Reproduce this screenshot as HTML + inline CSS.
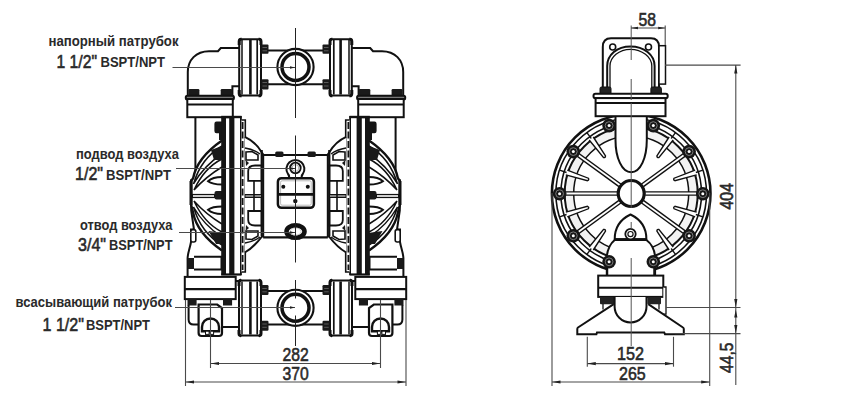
<!DOCTYPE html>
<html><head><meta charset="utf-8">
<style>
html,body{margin:0;padding:0;background:#fff;}
svg{display:block;}
text{font-family:"Liberation Sans",sans-serif;fill:#2a2a2a;}
.lb{font-weight:bold;font-size:14px;}
.big{font-size:18.8px;stroke:#2a2a2a;stroke-width:0.6px;}
.bs{font-weight:bold;font-size:15px;}
.dim{stroke:#4a4a4a;stroke-width:1.1;fill:none;}
.ar{fill:#222;stroke:none;}
.k{stroke:#111;fill:none;stroke-width:2;stroke-linejoin:round;stroke-linecap:round;}
.kf{fill:#fff;stroke:#111;stroke-width:2;stroke-linejoin:round;}
.t{stroke:#111;fill:none;stroke-width:1.2;}
.cl{stroke:#555;stroke-width:1;fill:none;}
</style></head><body>
<svg width="844" height="412" viewBox="0 0 844 412">

<g id="side">
<circle cx="631.2" cy="193.5" r="66" fill="#f2f2f2" stroke="none"/>
<circle cx="631.2" cy="193.5" r="57.5" fill="#fff" stroke="#111" stroke-width="1.5"/>
<circle cx="631.2" cy="193.5" r="79.3" fill="none" stroke="#111" stroke-width="2.6"/>
<circle cx="631.2" cy="193.5" r="75.3" fill="none" stroke="#111" stroke-width="1.6"/>
<circle cx="631.2" cy="193.5" r="70.3" fill="none" stroke="#111" stroke-width="1.6"/>
<circle cx="631.2" cy="193.5" r="66.5" fill="none" stroke="#111" stroke-width="2"/>
<line x1="694.4" y1="173.0" x2="702.8" y2="170.2" stroke="#111" stroke-width="1.4"/>
<line x1="670.3" y1="139.7" x2="675.5" y2="132.6" stroke="#111" stroke-width="1.4"/>
<line x1="592.1" y1="139.7" x2="586.9" y2="132.6" stroke="#111" stroke-width="1.4"/>
<line x1="568.0" y1="173.0" x2="559.6" y2="170.2" stroke="#111" stroke-width="1.4"/>
<line x1="568.0" y1="214.0" x2="559.6" y2="216.8" stroke="#111" stroke-width="1.4"/>
<line x1="592.1" y1="247.3" x2="586.9" y2="254.4" stroke="#111" stroke-width="1.4"/>
<line x1="670.3" y1="247.3" x2="675.5" y2="254.4" stroke="#111" stroke-width="1.4"/>
<line x1="694.4" y1="214.0" x2="702.8" y2="216.8" stroke="#111" stroke-width="1.4"/>
<line x1="645.2" y1="193.5" x2="698.2" y2="193.5" stroke="#111" stroke-width="4.6"/>
<line x1="642.5" y1="185.3" x2="685.4" y2="154.1" stroke="#111" stroke-width="4.6"/>
<line x1="619.9" y1="185.3" x2="577.0" y2="154.1" stroke="#111" stroke-width="4.6"/>
<line x1="617.2" y1="193.5" x2="564.2" y2="193.5" stroke="#111" stroke-width="4.6"/>
<line x1="619.9" y1="201.7" x2="577.0" y2="232.9" stroke="#111" stroke-width="4.6"/>
<line x1="642.5" y1="201.7" x2="685.4" y2="232.9" stroke="#111" stroke-width="4.6"/>
<line x1="645.2" y1="193.5" x2="696.2" y2="193.5" stroke="#fff" stroke-width="1.8"/>
<line x1="642.5" y1="185.3" x2="683.8" y2="155.3" stroke="#fff" stroke-width="1.8"/>
<line x1="619.9" y1="185.3" x2="578.6" y2="155.3" stroke="#fff" stroke-width="1.8"/>
<line x1="617.2" y1="193.5" x2="566.2" y2="193.5" stroke="#fff" stroke-width="1.8"/>
<line x1="619.9" y1="201.7" x2="578.6" y2="231.7" stroke="#fff" stroke-width="1.8"/>
<line x1="642.5" y1="201.7" x2="683.8" y2="231.7" stroke="#fff" stroke-width="1.8"/>
<path d="M696.6 174.9 L674.9 180.7 Q673.0 179.9 674.1 178.2 L695.1 170.1" fill="#fff" stroke="#111" stroke-width="1.4"/>
<path d="M673.2 140.0 L659.0 157.5 Q657.0 158.0 656.9 155.9 L669.1 137.0" fill="#fff" stroke="#111" stroke-width="1.4"/>
<path d="M593.3 137.0 L605.5 155.9 Q605.4 158.0 603.4 157.5 L589.2 140.0" fill="#fff" stroke="#111" stroke-width="1.4"/>
<path d="M567.3 170.1 L588.3 178.2 Q589.4 179.9 587.5 180.7 L565.8 174.9" fill="#fff" stroke="#111" stroke-width="1.4"/>
<path d="M565.8 212.1 L587.5 206.3 Q589.4 207.1 588.3 208.8 L567.3 216.9" fill="#fff" stroke="#111" stroke-width="1.4"/>
<path d="M589.2 247.0 L603.4 229.5 Q605.4 229.0 605.5 231.1 L593.3 250.0" fill="#fff" stroke="#111" stroke-width="1.4"/>
<path d="M669.1 250.0 L656.9 231.1 Q657.0 229.0 659.0 229.5 L673.2 247.0" fill="#fff" stroke="#111" stroke-width="1.4"/>
<path d="M695.1 216.9 L674.1 208.8 Q673.0 207.1 674.9 206.3 L696.6 212.1" fill="#fff" stroke="#111" stroke-width="1.4"/>
<circle cx="631.2" cy="193.5" r="13" fill="#fff" stroke="#111" stroke-width="3.2"/>
<!-- top pipe bullet -->
<path d="M615.5 112 V140 C615.5 158 622 172.3 631.2 172.3 C640.4 172.3 646.8 158 646.8 140 V112" fill="#fff" stroke="#111" stroke-width="2"/>
<!-- bottom shoulder -->
<path d="M606.8 276 V256 C608 247 611 243 614.7 240 H646.4 C650.5 243 654 247 655.1 256 V276 Z" fill="#fff" stroke="#111" stroke-width="2"/>
<!-- bottom pointed arch -->
<path d="M614.7 239.2 C614.7 229 619 220 630.5 214.5 C642 220 646.4 229 646.4 239.2 Z" fill="#fff" stroke="#111" stroke-width="2"/>
<line x1="614.7" y1="239.5" x2="646.4" y2="239.5" stroke="#111" stroke-width="2.6"/>
<circle cx="630.5" cy="234.1" r="5.2" fill="#fff" stroke="#111" stroke-width="1.8"/>
<circle cx="630.5" cy="234.1" r="2.6" fill="#fff" stroke="#111" stroke-width="1.2"/>
<!-- stems to base -->
<line x1="607.5" y1="262" x2="607.5" y2="276" stroke="#111" stroke-width="1.5"/>
<line x1="654" y1="262" x2="654" y2="276" stroke="#111" stroke-width="1.5"/>
<!-- top bracket -->
<path d="M602.8 88 V47 Q602.8 38.3 611 38.3 H651 Q659 38.3 659 47 V88" fill="#fff" stroke="#111" stroke-width="2"/>
<rect x="659" y="45.7" width="6.5" height="38.4" fill="#fff" stroke="#111" stroke-width="1.5"/>
<circle cx="612.7" cy="47" r="3" fill="#fff" stroke="#111" stroke-width="1.6"/>
<circle cx="648.5" cy="47" r="3" fill="#fff" stroke="#111" stroke-width="1.6"/>
<path d="M607.2 88 V66 C607.2 55 617 46.4 630.5 46.4 C644 46.4 654.6 55 654.6 66 V88" fill="none" stroke="#111" stroke-width="2"/>
<path d="M610 88 V66 C610 57 619 49.3 630.5 49.3 C642 49.3 651.8 57 651.8 66 V88" fill="none" stroke="#111" stroke-width="1.3"/>
<!-- nuts -->
<rect x="600" y="87" width="11" height="7.5" rx="1.5" fill="#222" stroke="#111" stroke-width="1"/>
<rect x="650.9" y="87" width="10.5" height="7.5" rx="1.5" fill="#222" stroke="#111" stroke-width="1"/>
<!-- top manifold -->
<rect x="593.5" y="93.8" width="74.2" height="4.5" rx="2" fill="#fff" stroke="#111" stroke-width="2"/>
<rect x="595.6" y="98.1" width="69.9" height="18.1" fill="#fff" stroke="#111" stroke-width="2"/>
<line x1="595.6" y1="103.1" x2="665.5" y2="103.1" stroke="#111" stroke-width="2"/>
<!-- base block -->
<rect x="598.2" y="275.6" width="65.1" height="21.3" fill="#fff" stroke="#111" stroke-width="2"/>
<line x1="598.2" y1="287.8" x2="663.3" y2="287.8" stroke="#111" stroke-width="2"/>
<path d="M663.3 287 H666 V314.2 H663.3" fill="#fff" stroke="#111" stroke-width="1.3"/>
<!-- foot -->
<path d="M613.7 304.2 L578 327.5 Q577.3 328 577.3 329 V334.2 H596.4 L597 332.4 H664.2 L665 334.2 H683.8 V329 Q683.8 328 683 327.5 L648.3 304.2" fill="#fff" stroke="#111" stroke-width="2"/>
<rect x="600" y="297" width="14.6" height="7.2" rx="1" fill="#222"/>
<rect x="647.4" y="297" width="13.6" height="7.2" rx="1" fill="#222"/>
<line x1="603" y1="304" x2="603" y2="309.6" stroke="#111" stroke-width="1.3"/>
<line x1="659" y1="304" x2="659" y2="309.6" stroke="#111" stroke-width="1.3"/>
<path d="M614.6 297 V306.4 A15.95 16 0 0 0 646.5 306.4 V297" fill="#fff" stroke="#111" stroke-width="2"/>
<!-- center line side -->
<path d="M631.2 25.5 V60 M631.2 79 V100 M631.2 103 V208 M631.2 222 V229 M631.2 258 V346" stroke="#555" stroke-width="1" fill="none"/>

<g transform="translate(702.8 193.7)"><circle r="6.8" fill="#161616"/><circle r="3.9" fill="none" stroke="#7a7a7a" stroke-width="1"/><circle r="1.5" fill="#fff"/></g>
<g transform="translate(689.1 151.6)"><circle r="6.8" fill="#161616"/><circle r="3.9" fill="none" stroke="#7a7a7a" stroke-width="1"/><circle r="1.5" fill="#fff"/></g>
<g transform="translate(653.3 125.6)"><circle r="6.8" fill="#161616"/><circle r="3.9" fill="none" stroke="#7a7a7a" stroke-width="1"/><circle r="1.5" fill="#fff"/></g>
<g transform="translate(609.1 125.6)"><circle r="6.8" fill="#161616"/><circle r="3.9" fill="none" stroke="#7a7a7a" stroke-width="1"/><circle r="1.5" fill="#fff"/></g>
<g transform="translate(573.3 151.6)"><circle r="6.8" fill="#161616"/><circle r="3.9" fill="none" stroke="#7a7a7a" stroke-width="1"/><circle r="1.5" fill="#fff"/></g>
<g transform="translate(559.6 193.7)"><circle r="6.8" fill="#161616"/><circle r="3.9" fill="none" stroke="#7a7a7a" stroke-width="1"/><circle r="1.5" fill="#fff"/></g>
<g transform="translate(573.3 235.8)"><circle r="6.8" fill="#161616"/><circle r="3.9" fill="none" stroke="#7a7a7a" stroke-width="1"/><circle r="1.5" fill="#fff"/></g>
<g transform="translate(609.1 261.8)"><circle r="6.8" fill="#161616"/><circle r="3.9" fill="none" stroke="#7a7a7a" stroke-width="1"/><circle r="1.5" fill="#fff"/></g>
<g transform="translate(653.3 261.8)"><circle r="6.8" fill="#161616"/><circle r="3.9" fill="none" stroke="#7a7a7a" stroke-width="1"/><circle r="1.5" fill="#fff"/></g>
<g transform="translate(689.1 235.8)"><circle r="6.8" fill="#161616"/><circle r="3.9" fill="none" stroke="#7a7a7a" stroke-width="1"/><circle r="1.5" fill="#fff"/></g>
</g>
<g id="front">
<defs>
<g id="fl">
<!-- top elbow -->
<path d="M187.8 97 V72 C187.8 60 196 51.2 209 51.2 H218 L220.8 48 H240 V86.2 H232.4 V97 Z" fill="#fff" stroke="#111" stroke-width="2"/>
<!-- top manifold block -->
<rect x="188.5" y="89.1" width="10.9" height="7" rx="1.2" fill="#1a1a1a"/>
<rect x="220.7" y="89.1" width="11.5" height="7" rx="1.2" fill="#1a1a1a"/>
<rect x="185.8" y="95.8" width="48.1" height="3.6" rx="1.5" fill="#777" stroke="#111" stroke-width="2"/>
<rect x="187.3" y="99" width="45.5" height="18.2" fill="#fff" stroke="#111" stroke-width="2"/>
<line x1="187.3" y1="104.6" x2="232.8" y2="104.6" stroke="#111" stroke-width="2"/>
<!-- top clamp -->
<path d="M239.2 41.5 Q239.2 39.3 241.4 39.3 H258.8 Q261 39.3 261 41.5 V93.2 Q261 95.4 258.8 95.4 H241.4 Q239.2 95.4 239.2 93.2 Z" fill="#fff" stroke="#111" stroke-width="2"/>
<line x1="242" y1="40" x2="242" y2="94.5" stroke="#111" stroke-width="1.5"/>
<line x1="250.4" y1="40" x2="250.4" y2="94.5" stroke="#111" stroke-width="2.6"/>
<line x1="257.2" y1="40" x2="257.2" y2="94.5" stroke="#111" stroke-width="1.7"/>
<path d="M239.2 45 V41.5 Q239.2 39 241.5 39.3 M261 45 V41.5 Q261 39 258.7 39.3 M239.2 90 V93.5 Q239.2 96 241.5 95.7 M261 90 V93.5 Q261 96 258.7 95.7" stroke="#111" stroke-width="3" fill="none"/>
<!-- tee pipe top -->
<line x1="262" y1="50.4" x2="296" y2="50.4" stroke="#111" stroke-width="2"/>
<line x1="262" y1="84.3" x2="296" y2="84.3" stroke="#111" stroke-width="2"/>
<rect x="261.5" y="44.4" width="7" height="9.4" rx="1" fill="#1a1a1a"/>
<rect x="261.5" y="79.2" width="7" height="10.2" rx="1" fill="#1a1a1a"/>

<!-- chamber housing outline -->
<path d="M195.4 117.2 V179.4 L191.2 180 V210.5 L194 229.6 H191 V242 C190 248 188 252 187.6 258 V277" fill="none" stroke="#111" stroke-width="2"/>
<rect x="190.8" y="229.6" width="5" height="12.4" rx="2" fill="#fff" stroke="#111" stroke-width="1.6"/>
<rect x="187.4" y="258" width="6.6" height="11" fill="#1a1a1a"/>
<path d="M194 256.8 H221.5 V269.6 H194" fill="#fff" stroke="#111" stroke-width="2"/>

<!-- dome -->
<path d="M222 140.5 C208.7 149.7 196.3 161.9 193.2 178 L191.2 181 V205 L193.2 213 C196.3 229.1 208.7 241.3 222 250.5" fill="#fff" stroke="#111" stroke-width="2.4"/>
<path d="M191 181 V205" stroke="#111" stroke-width="3"/>
<path d="M222 146 C210 153 199 165 193.5 184 C201 171 211 161 222 154" fill="#fff" stroke="#111" stroke-width="1.5"/>
<path d="M222 159 C210 165 200 177 194 190 C203 180 212 173 222 167" fill="#fff" stroke="#111" stroke-width="1.5"/>
<path d="M222 245 C210 238 199 226 193.5 207 C201 220 211 230 222 237" fill="#fff" stroke="#111" stroke-width="1.5"/>
<path d="M222 232 C210 226 200 214 194 201 C203 211 212 218 222 224" fill="#fff" stroke="#111" stroke-width="1.5"/>
<path d="M222 177 C216 177 211 178.5 208 181.2 C211 183.5 216 184.5 222 184.5" fill="#fff" stroke="#111" stroke-width="1.9"/>
<path d="M222 214 C216 214 211 212.5 208 209.8 C211 207.5 216 206.5 222 206.5" fill="#fff" stroke="#111" stroke-width="1.9"/>
<line x1="192" y1="196" x2="215" y2="196" stroke="#111" stroke-width="4.2"/>
<line x1="193" y1="196" x2="214" y2="196" stroke="#fff" stroke-width="1.6"/>
<!-- bolt blobs -->
<path d="M222 121.6 H216.5 Q214.4 121.6 214.4 123.7 V131 Q214.4 133.2 216.5 133.2 H219 V140 H222 Z" fill="#151515"/>
<path d="M211 150 L222 146 V160 L214 160 Z" fill="#1a1a1a"/>
<rect x="214.5" y="191" width="9.3" height="8.5" rx="2" fill="#1a1a1a"/>
<path d="M208.5 231 L223 233 V244 L216 244 Z" fill="#1a1a1a"/>


<!-- clamp ring -->
<rect x="221.2" y="116.8" width="4.8" height="158" fill="#151515"/>
<rect x="229.2" y="116.8" width="5.2" height="158" fill="#151515"/>
<line x1="240.9" y1="116" x2="240.9" y2="275" stroke="#111" stroke-width="1.8"/>
<line x1="221.2" y1="117" x2="241.5" y2="117" stroke="#111" stroke-width="2.4"/>
<line x1="221.2" y1="274.5" x2="241.5" y2="274.5" stroke="#111" stroke-width="2.2"/>
<path d="M241.5 120 H245.3 V272 H241.5" fill="#fff" stroke="#111" stroke-width="1.6"/>
<line x1="242.6" y1="122" x2="242.6" y2="270" stroke="#111" stroke-width="1.8" stroke-dasharray="7 2.5"/>
<!-- center chamber fins -->
<path d="M244.8 136.8 C252 140 258 146 261.5 152 L263.2 154.5 V236.5 H262 C257 243 251 249 244.8 252.5" fill="#fff" stroke="#111" stroke-width="2"/>
<path d="M245 148 C251 149 256 151 260 154" stroke="#111" stroke-width="1.4" fill="none"/>
<path d="M246 152 L252 151.5 L258 155 V160 H246 Z" fill="#fff" stroke="#111" stroke-width="1.6"/>
<path d="M248.2 180.8 V171 C248.2 167.5 251 165.5 255 165.5 H261.7 V180.8 Z" fill="#fff" stroke="#111" stroke-width="1.8"/>
<path d="M248.2 211 V220 C248.2 223.5 251 225.5 255 225.5 H261.7 V211 Z" fill="#fff" stroke="#111" stroke-width="1.8"/>
<path d="M246 239 L252 239.5 L258 236 V231 H246 Z" fill="#fff" stroke="#111" stroke-width="1.6"/>
<path d="M245 243 C251 242 256 240 260 237" stroke="#111" stroke-width="1.4" fill="none"/>
<path d="M245.6 160 L249 163 L246 166 Z M245.6 231 L249 228 L246 225 Z" fill="#1a1a1a"/>

<path d="M261.7 150 V236" stroke="#111" stroke-width="2.2"/>
<path d="M244.8 196 H262" stroke="#111" stroke-width="4"/>
<path d="M245.5 196 H261" stroke="#bbb" stroke-width="1.4"/>
<path d="M254 181 V211" stroke="#111" stroke-width="1.6"/>
<!-- center body top -->
<line x1="262" y1="155" x2="296" y2="155" stroke="#111" stroke-width="2"/>
<rect x="275.2" y="151.5" width="8.3" height="5.4" rx="1.5" fill="#1a1a1a"/>
<line x1="263.2" y1="237.3" x2="296" y2="237.3" stroke="#111" stroke-width="2.2"/>

<!-- bottom manifold block -->
<rect x="184.8" y="276.9" width="50.9" height="22.2" fill="#fff" stroke="#111" stroke-width="2"/>
<line x1="184.8" y1="289.1" x2="235.7" y2="289.1" stroke="#111" stroke-width="2.2"/>
<rect x="187.5" y="299" width="9.1" height="6.5" fill="#1a1a1a"/>
<rect x="223" y="299" width="9.1" height="6.5" fill="#1a1a1a"/>
<!-- foot -->
<path d="M188.6 305 V319.5 Q188.6 324.5 193.6 324.5 H199" fill="none" stroke="#111" stroke-width="2"/>
<path d="M198.6 304.5 H217.2 L222 308.1 V333 Q222 336 219 336 H201.6 Q198.6 336 198.6 333 Z" fill="#fff" stroke="#111" stroke-width="2.2"/>
<path d="M202 331.2 V327 C202 322 205.8 318.5 210.5 318.5 C215.2 318.5 219 322 219 327 V331.2 Z" fill="#fff" stroke="#111" stroke-width="2.4"/>
<rect x="205.5" y="331.2" width="3.6" height="3.2" fill="#fff" stroke="#111" stroke-width="1"/>
<rect x="210" y="331.2" width="3.6" height="3.2" fill="#fff" stroke="#111" stroke-width="1"/>
<path d="M222 327 H239 M235.7 281 H239" stroke="#111" stroke-width="2" fill="none"/>
<!-- bottom clamp -->
<path d="M239 282.6 Q239 280.5 241.2 280.5 H258.8 Q261 280.5 261 282.6 V333.5 Q261 335.5 258.8 335.5 H241.2 Q239 335.5 239 333.5 Z" fill="#fff" stroke="#111" stroke-width="2"/>
<line x1="242" y1="281.5" x2="242" y2="334.5" stroke="#111" stroke-width="1.5"/>
<line x1="250.4" y1="281.5" x2="250.4" y2="334.5" stroke="#111" stroke-width="2.6"/>
<line x1="257.2" y1="281.5" x2="257.2" y2="334.5" stroke="#111" stroke-width="1.7"/>
<path d="M239 286 V282.5 Q239 280 241.2 280.4 M261 286 V282.5 Q261 280 258.8 280.4 M239 330 V333.5 Q239 336 241.2 335.6 M261 330 V333.5 Q261 336 258.8 335.6" stroke="#111" stroke-width="3" fill="none"/>
<line x1="262" y1="291" x2="296" y2="291" stroke="#111" stroke-width="2"/>
<line x1="262" y1="324.5" x2="296" y2="324.5" stroke="#111" stroke-width="2"/>
<rect x="261.3" y="285" width="7.2" height="10" rx="1.2" fill="#1a1a1a"/>
<rect x="261.3" y="320.8" width="7.2" height="10" rx="1.2" fill="#1a1a1a"/>
<path d="M262.5 47.5 H267 M262.5 50.8 H267 M262.5 82.5 H267 M262.5 86 H267 M262.3 288.5 H266.8 M262.3 291.8 H266.8 M262.3 324 H266.8 M262.3 327.3 H266.8" stroke="#6a6a6a" stroke-width="0.8"/>

</g>
</defs>
<use href="#fl"/>
<use href="#fl" transform="matrix(-1 0 0 1 591 0)"/>

<!-- central items -->
<rect x="275" y="150" width="42" height="8" fill="none"/>
<circle cx="295.5" cy="67" r="18.1" fill="#fff" stroke="#111" stroke-width="2.1"/>
<circle cx="295.5" cy="67" r="13.5" fill="#fff" stroke="#111" stroke-width="3.5"/>
<circle cx="295.5" cy="307.8" r="18.1" fill="#fff" stroke="#111" stroke-width="2.1"/>
<circle cx="295.5" cy="307.8" r="13.5" fill="#fff" stroke="#111" stroke-width="3.5"/>
<!-- eye & valve plate -->
<path d="M288.5 179 C289.5 177 289.5 175.5 288 174 A9 9 0 1 1 302.8 174 C301.3 175.5 301.3 177 302.3 179 Z" fill="#fff" stroke="#111" stroke-width="2"/>
<circle cx="295.4" cy="168" r="5.3" fill="#fff" stroke="#111" stroke-width="1.8"/>
<circle cx="295.4" cy="168" r="3.4" fill="#fff" stroke="#999" stroke-width="0.8"/>
<rect x="277.9" y="178.2" width="36" height="29.6" rx="3.5" fill="#fff" stroke="#111" stroke-width="2.5"/>
<rect x="280.6" y="180.8" width="30.6" height="24.4" rx="1.5" fill="none" stroke="#aaa" stroke-width="0.8"/>
<line x1="277.9" y1="194.4" x2="313.9" y2="194.4" stroke="#111" stroke-width="2.8"/>
<circle cx="283.3" cy="186.8" r="2" fill="#111"/>
<circle cx="307.8" cy="186.8" r="2" fill="#111"/>
<circle cx="295.3" cy="201.1" r="2.2" fill="#111"/>
<!-- muffler port -->
<ellipse cx="295.5" cy="231.6" rx="9" ry="6.2" fill="#fff" stroke="#111" stroke-width="4.6"/>
<ellipse cx="295.5" cy="231.6" rx="5.6" ry="3.6" fill="none" stroke="#bbb" stroke-width="0.8"/>
<!-- center line -->
<path d="M295.5 28 V118 M295.5 135.5 V262.5 M295.5 280 V298.5 M295.5 315.5 V346" stroke="#222" stroke-width="1" fill="none"/>
</g>

<!-- LABELS -->
<g id="labels">
<text class="lb" x="48.5" y="45.6" textLength="130" lengthAdjust="spacingAndGlyphs">напорный патрубок</text>
<text class="big" x="56.5" y="67.5" textLength="40.5" lengthAdjust="spacingAndGlyphs">1 1/2"</text>
<text class="bs" x="100.5" y="67" textLength="64.5" lengthAdjust="spacingAndGlyphs">BSPT/NPT</text>
<line class="dim" x1="172.5" y1="67.5" x2="295" y2="67.5"/>

<text class="lb" x="76" y="158.5" textLength="103" lengthAdjust="spacingAndGlyphs">подвод воздуха</text>
<text class="big" x="75" y="180.3" textLength="28" lengthAdjust="spacingAndGlyphs">1/2"</text>
<text class="bs" x="106" y="179.5" textLength="65" lengthAdjust="spacingAndGlyphs">BSPT/NPT</text>
<line class="dim" x1="176" y1="168.5" x2="295" y2="168.5"/>

<text class="lb" x="80" y="229.9" textLength="92.5" lengthAdjust="spacingAndGlyphs">отвод воздуха</text>
<text class="big" x="78" y="250.8" textLength="28" lengthAdjust="spacingAndGlyphs">3/4"</text>
<text class="bs" x="109" y="249.5" textLength="63.5" lengthAdjust="spacingAndGlyphs">BSPT/NPT</text>
<line class="dim" x1="179" y1="232.5" x2="295" y2="232.5"/>

<text class="lb" x="15.5" y="307" textLength="156.5" lengthAdjust="spacingAndGlyphs">всасывающий патрубок</text>
<text class="big" x="42.5" y="331" textLength="41.5" lengthAdjust="spacingAndGlyphs">1 1/2"</text>
<text class="bs" x="86" y="329.9" textLength="64" lengthAdjust="spacingAndGlyphs">BSPT/NPT</text>
<line class="dim" x1="175" y1="307.5" x2="295" y2="307.5"/>
<path class="ar" d="M295 67.5 l-5 -1.2 v2.4 z M295 168.5 l-5 -1.2 v2.4 z M295 232.5 l-5 -1.2 v2.4 z M295 307.5 l-5 -1.2 v2.4 z"/>
</g>

<!-- DIMENSIONS FRONT -->
<g id="dimf">
<line class="dim" x1="185.5" y1="300" x2="185.5" y2="386"/>
<line class="dim" x1="406" y1="300" x2="406" y2="386"/>
<line class="dim" x1="210.5" y1="300" x2="210.5" y2="368"/>
<line class="dim" x1="380.5" y1="300" x2="380.5" y2="368"/>
<line class="dim" x1="210.5" y1="363.5" x2="380.5" y2="363.5"/>
<line class="dim" x1="185.5" y1="382" x2="406" y2="382"/>
<path class="ar" d="M210.5 363.5 l8.5 -1.6 v3.2 z M380.5 363.5 l-8.5 -1.6 v3.2 z M185.5 382 l8.5 -1.6 v3.2 z M406 382 l-8.5 -1.6 v3.2 z"/>
<text class="big" x="282.6" y="360.8" textLength="26.2" lengthAdjust="spacingAndGlyphs">282</text>
<text class="big" x="282.6" y="379.8" textLength="26.2" lengthAdjust="spacingAndGlyphs">370</text>
</g>

<!-- DIMENSIONS SIDE -->
<g id="dims">
<line class="dim" x1="552" y1="193" x2="552" y2="386"/>
<line class="dim" x1="709.7" y1="193" x2="709.7" y2="386"/>
<line class="dim" x1="552" y1="382" x2="709.7" y2="382"/>
<path class="ar" d="M552 382 l8.5 -1.6 v3.2 z M709.7 382 l-8.5 -1.6 v3.2 z"/>
<line class="dim" x1="587.3" y1="336.8" x2="587.3" y2="366.7"/>
<line class="dim" x1="673.5" y1="336.8" x2="673.5" y2="366.7"/>
<line class="dim" x1="587.3" y1="363.6" x2="673.5" y2="363.6"/>
<path class="ar" d="M587.3 363.6 l8.5 -1.6 v3.2 z M673.5 363.6 l-8.5 -1.6 v3.2 z"/>
<text class="big" x="617" y="360.4" textLength="27" lengthAdjust="spacingAndGlyphs">152</text>
<text class="big" x="619" y="380.3" textLength="26.7" lengthAdjust="spacingAndGlyphs">265</text>
<!-- 58 -->
<line class="dim" x1="665.2" y1="25.5" x2="665.2" y2="45"/>
<line class="dim" x1="631" y1="28" x2="665.2" y2="28"/>
<path class="ar" d="M631 28 l7 -1.3 v2.6 z M665.2 28 l-7 -1.3 v2.6 z"/>
<text class="big" x="638.5" y="25.5" textLength="17.5" lengthAdjust="spacingAndGlyphs">58</text>
<!-- 404 -->
<line class="dim" x1="665" y1="65.1" x2="740.6" y2="65.1"/>
<line class="dim" x1="666" y1="307.5" x2="740.5" y2="307.5"/>
<line class="dim" x1="674.7" y1="333.6" x2="740.5" y2="333.6"/>
<line class="dim" x1="735.8" y1="65.1" x2="735.8" y2="385"/>
<path class="ar" d="M735.8 65.1 l-1.6 8.5 h3.2 z M735.8 307.5 l-1.6 -8.5 h3.2 z M735.8 309.5 l-1.6 8 h3.2 z M735.8 333.6 l-1.6 -8.5 h3.2 z"/>
<text class="big" transform="translate(732.7 209.5) rotate(-90)" x="0" y="0" textLength="26.5" lengthAdjust="spacingAndGlyphs">404</text>
<text class="big" transform="translate(732.7 373) rotate(-90)" x="0" y="0" textLength="30.5" lengthAdjust="spacingAndGlyphs">44,5</text>
</g>


</svg>
</body></html>
